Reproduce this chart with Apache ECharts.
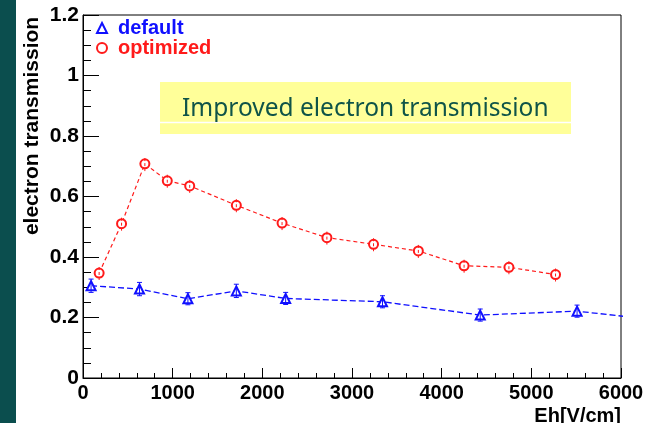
<!DOCTYPE html>
<html>
<head>
<meta charset="utf-8">
<script src="https://cdn.jsdelivr.net/npm/echarts@6/dist/echarts.min.js"></script>
<style>
html,body{margin:0;padding:0;background:#fff;}
#chart{width:652px;height:423px;}
</style>
</head>
<body>
<div id="chart"></div>
<script>
// ---- data ----
const defaultX   = [90, 630, 1170, 1710, 2260, 3340, 4430, 5510, 6600];
const defaultY   = [0.305, 0.294, 0.262, 0.288, 0.263, 0.252, 0.208, 0.221, 0.185];
const defaultErr = [0.022, 0.022, 0.020, 0.022, 0.020, 0.020, 0.020, 0.020, 0.020];

const optimizedX   = [180, 430, 690, 940, 1190, 1710, 2220, 2720, 3240, 3740, 4250, 4750, 5270];
const optimizedY   = [0.347, 0.510, 0.708, 0.652, 0.635, 0.571, 0.512, 0.464, 0.442, 0.420, 0.371, 0.366, 0.342];
const optimizedErr = [0.023, 0.023, 0.024, 0.023, 0.023, 0.023, 0.023, 0.023, 0.023, 0.023, 0.023, 0.023, 0.023];

const seriesNames = ['default', 'optimized'];
const xTitle = 'Eh[V/cm]';
const yTitle = 'electron transmission';
const noteText = 'Improved electron transmission';

const BLUE = '#1010ff';
const RED = '#ff1a1a';
const FONT = '"Liberation Sans", Arial, Helvetica, sans-serif';

function pairs(xs, ys) { return xs.map((x, i) => [x, ys[i]]); }
function errData(xs, ys, es) { return xs.map((x, i) => [x, ys[i] - es[i], ys[i] + es[i]]); }

function errRender(color, cap, dash) {
  return function (params, api) {
    const lo = api.coord([api.value(0), api.value(1)]);
    const hi = api.coord([api.value(0), api.value(2)]);
    const children = [{
      type: 'line',
      shape: { x1: lo[0], y1: lo[1], x2: hi[0], y2: hi[1] },
      style: { stroke: color, lineWidth: 1, lineDash: dash || null }
    }];
    if (cap) {
      children.push({ type: 'line', shape: { x1: lo[0] - cap, y1: lo[1], x2: lo[0] + cap, y2: lo[1] }, style: { stroke: color, lineWidth: 1 } });
      children.push({ type: 'line', shape: { x1: hi[0] - cap, y1: hi[1], x2: hi[0] + cap, y2: hi[1] }, style: { stroke: color, lineWidth: 1 } });
    }
    return { type: 'group', children: children };
  };
}

const chart = echarts.init(document.getElementById('chart'), null, { renderer: 'canvas' });

const option = {
  animation: false,
  backgroundColor: '#ffffff',
  grid: {
    left: 83, right: 31, top: 15, bottom: 45,
    show: true, borderColor: '#000', borderWidth: 1, backgroundColor: 'transparent'
  },
  xAxis: {
    type: 'value', min: 0, max: 6000, interval: 1000,
    axisLine: { show: true, lineStyle: { color: '#000', width: 1 } },
    axisTick: { show: true, inside: true, length: 10, lineStyle: { color: '#000', width: 1 } },
    minorTick: { show: true, splitNumber: 5, length: 5, lineStyle: { color: '#000', width: 1 } },
    splitLine: { show: false },
    axisLabel: {
      color: '#000', fontFamily: FONT, fontWeight: 'bold', fontSize: 20, margin: 5,
      formatter: function (v) { return String(Math.round(v)); }
    }
  },
  yAxis: {
    type: 'value', min: 0, max: 1.2, interval: 0.2,
    axisLine: { show: true, lineStyle: { color: '#000', width: 1 } },
    axisTick: { show: true, inside: true, length: 16, lineStyle: { color: '#000', width: 1 } },
    minorTick: { show: true, splitNumber: 4, length: 8, lineStyle: { color: '#000', width: 1 } },
    splitLine: { show: false },
    axisLabel: {
      color: '#000', fontFamily: FONT, fontWeight: 'bold', fontSize: 21, margin: 4,
      padding: [8, 0, 0, 0],
      formatter: function (v) { return String(+v.toFixed(1)); }
    }
  },
  legend: {
    orient: 'vertical', left: 96, top: 18, padding: 0, itemGap: 0,
    itemWidth: 10, itemHeight: 10,
    textStyle: { fontFamily: FONT, fontWeight: 'bold', fontSize: 20, lineHeight: 20, padding: [0, 0, 0, 6] },
    itemStyle: { borderWidth: 1 },
    data: [
      { name: seriesNames[0], icon: 'emptyTriangle', textStyle: { color: BLUE } },
      { name: seriesNames[1], icon: 'emptyCircle', textStyle: { color: RED } }
    ]
  },
  graphic: [
    { type: 'rect', left: 0, top: 0, shape: { width: 16, height: 423 }, style: { fill: '#0b4e4e' }, z: 100 },
    { type: 'rect', shape: { x: 160, y: 82, width: 411, height: 52 }, style: { fill: '#ffff99' }, z: 1 },
    { type: 'line', shape: { x1: 160, y1: 122.5, x2: 571, y2: 122.5 }, style: { stroke: '#ffffff', lineWidth: 1.5 }, z: 2 },
    { type: 'text', x: 182, y: 109, z: 3,
      style: { text: noteText, fill: '#0f5448', font: '24.5px "Noto Sans", "DejaVu Sans", sans-serif', textAlign: 'left', textVerticalAlign: 'middle' } },
    { type: 'text', x: 32, y: 126, rotation: Math.PI / 2, z: 3,
      style: { text: yTitle, fill: '#000', font: 'bold 21px ' + FONT, textAlign: 'center', textVerticalAlign: 'middle' } },
    { type: 'text', x: 621, y: 416, z: 3,
      style: { text: xTitle, fill: '#000', font: 'bold 20px ' + FONT, textAlign: 'right', textVerticalAlign: 'middle' } }
  ],
  series: [
    {
      name: seriesNames[0], type: 'line', data: pairs(defaultX, defaultY), clip: true,
      symbol: 'emptyTriangle', symbolSize: 9,
      itemStyle: { color: BLUE, borderWidth: 1 },
      lineStyle: { color: BLUE, width: 1.3, type: [6, 3] },
      z: 4
    },
    {
      name: seriesNames[1], type: 'line', data: pairs(optimizedX, optimizedY), clip: true,
      symbol: 'emptyCircle', symbolSize: 9,
      itemStyle: { color: RED, borderWidth: 1 },
      lineStyle: { color: RED, width: 1.2, type: [4, 3] },
      z: 4
    },
    {
      name: seriesNames[0] + ' err', type: 'custom', data: errData(defaultX, defaultY, defaultErr),
      renderItem: errRender(BLUE, 2.5), clip: true, silent: true, z: 5,
      encode: { x: 0, y: [1, 2] }
    },
    {
      name: seriesNames[1] + ' err', type: 'custom', data: errData(optimizedX, optimizedY, optimizedErr),
      renderItem: errRender(RED, 0, [3, 2]), clip: true, silent: true, z: 5,
      encode: { x: 0, y: [1, 2] }
    }
  ]
};
chart.setOption(option);
</script>
</body>
</html>
